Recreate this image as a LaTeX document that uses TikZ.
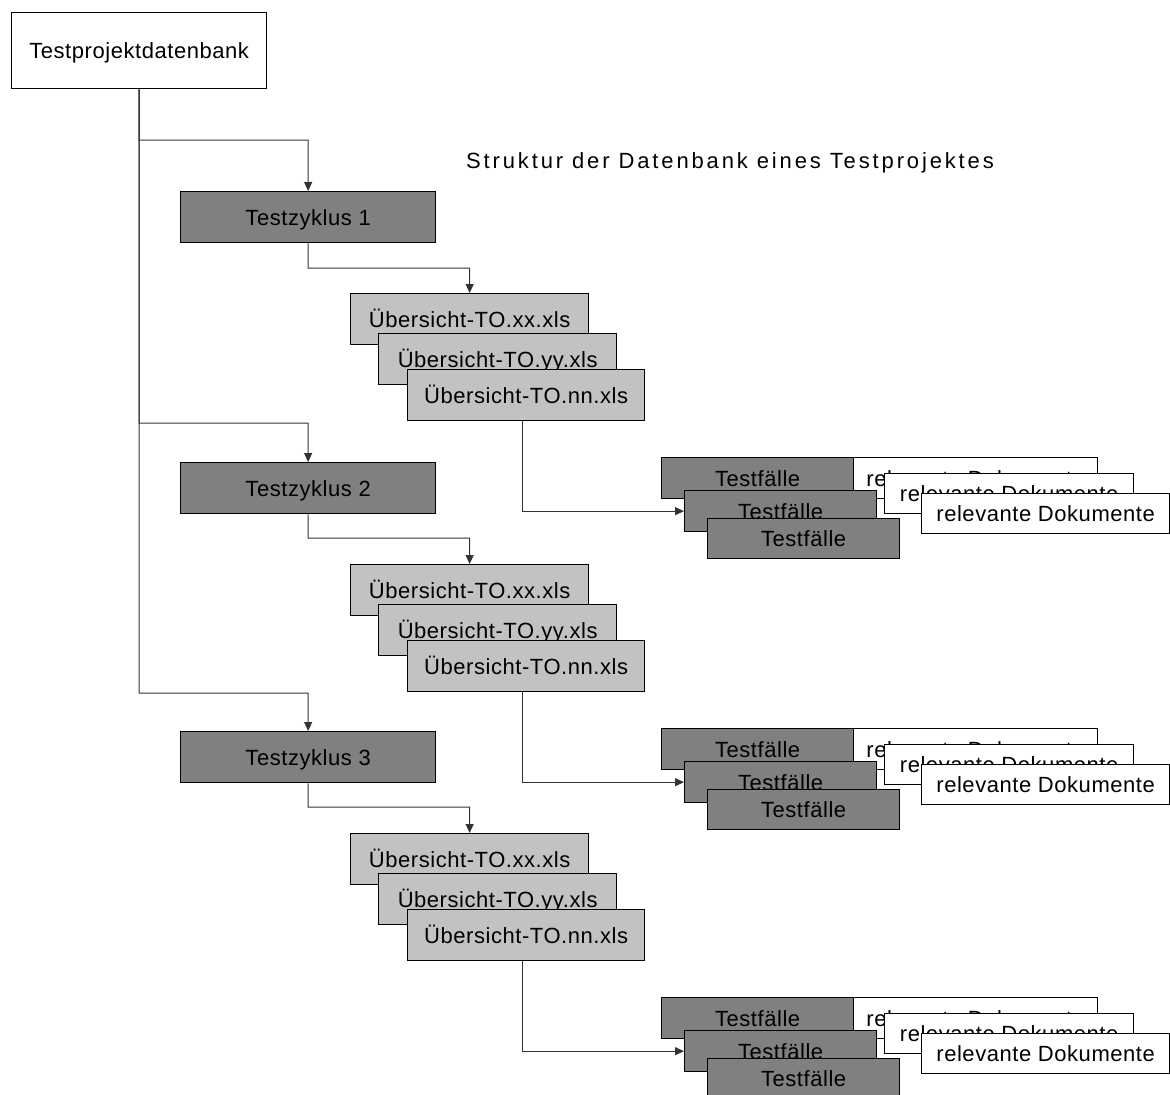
\documentclass[tikz,border=0pt]{standalone}
\usepackage{fontspec}
\setmainfont[LetterSpace=2.5]{Liberation Sans}
\newfontfamily\titlefont[LetterSpace=13]{Liberation Sans}
\usetikzlibrary{arrows.meta}
\definecolor{boxdark}{gray}{0.5}
\definecolor{boxlight}{gray}{0.76}
\definecolor{wire}{gray}{0.2}
\begin{document}
\begin{tikzpicture}[x=1pt,y=-1pt,
  txt/.style={font=\fontsize{22}{26}\selectfont, text height=16pt, text depth=0pt},
  box/.style={txt, draw=black, line width=1.3pt, inner sep=0pt, anchor=north west, align=center},
  dbbox/.style={box, fill=white, minimum width=255pt, minimum height=76pt},
  zyklus/.style={box, fill=boxdark, minimum width=255pt, minimum height=51pt},
  uebersicht/.style={box, fill=boxlight, minimum width=238pt, minimum height=51pt},
  testfall/.style={box, fill=boxdark, minimum width=192pt, minimum height=41pt},
  dokument/.style={box, fill=white, minimum height=40pt},
  link/.style={draw=wire, line width=1pt, -{Triangle[length=9pt,width=8pt]}}]

\useasboundingbox (0,0) rectangle (1170,1095);
\clip (0,0) rectangle (1170,1095);

% database root and title
\node[dbbox] (db) at (11,12) {Testprojektdatenbank};
\node[txt, anchor=center, font=\fontsize{22}{26}\titlefont] (title) at (730,160) {Struktur der Datenbank eines Testprojektes};

% one test cycle per entry: index / branch y / cycle top / knee y / overview top / test case top
\foreach \i/\br/\tz/\kn/\ub/\tf in {1/140/191/268/293/457, 2/423/462/538/564/728, 3/693/731/807/833/997}{
  % cycle box, fed from the trunk
  \node[zyklus] (tz\i) at (180,\tz) {Testzyklus \i};
  \coordinate (br\i) at (308,\br);
  \draw[link] (db.south) |- (br\i) -- (tz\i.north);

  % stacked overview sheets
  \node[uebersicht] (u\i a) at (350,\ub) {Übersicht-TO.xx.xls};
  \node[uebersicht] (u\i b) at (378,\ub+40) {Übersicht-TO.yy.xls};
  \node[uebersicht, minimum width=237pt] (u\i c) at (407,\ub+76) {Übersicht-TO.nn.xls};
  \coordinate (kn\i) at (308,\kn);
  \draw[link] (tz\i.south) -- (kn\i) -| (u\i a.north);

  % stacked test cases with their documents
  \node[testfall] (tfa\i) at (661,\tf) {Testfälle};
  \node[dokument, minimum width=244pt, minimum height=41pt] (doa\i) at (853,\tf) {relevante Dokumente};
  \node[testfall] (tfb\i) at (684,\tf+33) {Testfälle};
  \node[dokument, minimum width=249pt] (dob\i) at (884,\tf+16) {relevante Dokumente};
  \node[testfall, minimum height=40pt] (tfc\i) at (707,\tf+61) {Testfälle};
  \node[dokument, minimum width=248pt] (doc\i) at (921,\tf+36) {relevante Dokumente};
  \draw[link] ([xshift=-3.5pt]u\i c.south) |- (tfb\i.west);
}
\end{tikzpicture}
\end{document}
